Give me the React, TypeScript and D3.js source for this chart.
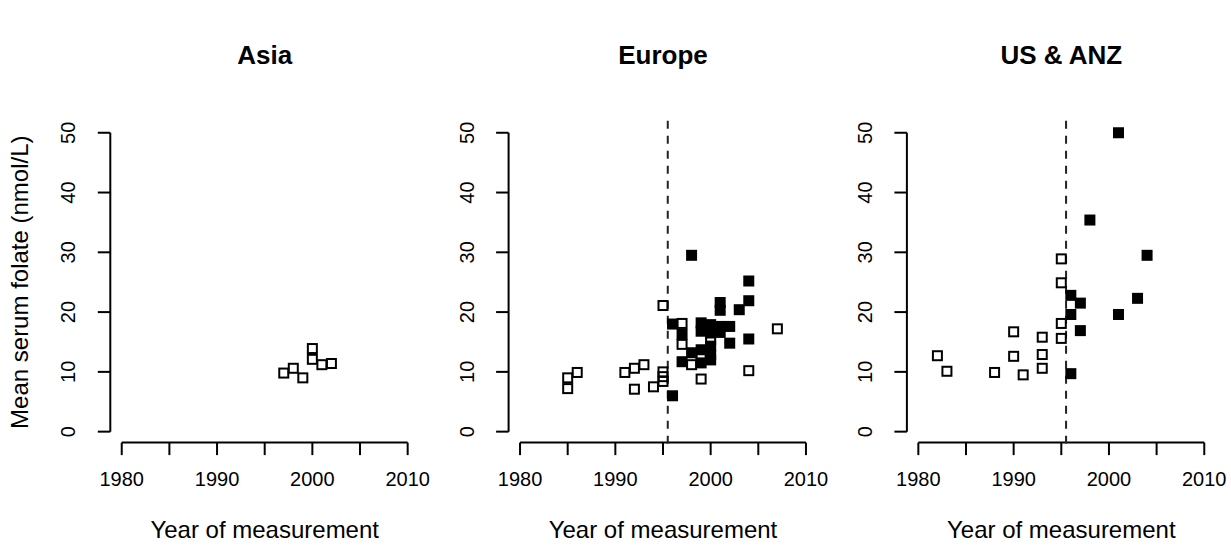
import * as d3 from 'd3';

const WIDTH = 1231;
const HEIGHT = 546;

const PANEL_LEFT = [110.3, 508.6, 906.9];
const PLOT_W = 308.8;
const PLOT_TOP = 120.8;
const PLOT_BOTTOM = 443.6;

const FONT = '"Liberation Sans", Arial, Helvetica, sans-serif';

const regions = ['Asia', 'Europe', 'US & ANZ'];
const xTicks = [1980, 1985, 1990, 1995, 2000, 2005, 2010];
const xTickLabels = ['1980', '1990', '2000', '2010'];
const yTicks = [0, 10, 20, 30, 40, 50];
const fortificationYear = 1995.5;

// open squares: before fortification, filled: after
const asiaOpenYears = [1997, 1998, 1999, 2000, 2000, 2001, 2002];
const asiaOpenValues = [9.8, 10.6, 9.0, 13.9, 12.1, 11.2, 11.4];
const asiaFilledYears: number[] = [];
const asiaFilledValues: number[] = [];

const europeOpenYears = [1985, 1985, 1986, 1991, 1992, 1992, 1993, 1994, 1995, 1995, 1995, 1995,
  1997, 1997, 1998, 1999, 1999, 2000, 2004, 2007];
const europeOpenValues = [9.0, 7.2, 9.9, 9.9, 10.6, 7.1, 11.2, 7.5, 8.4, 9.2, 10.0, 21.1,
  18.1, 14.6, 11.2, 12.7, 8.8, 15.4, 10.2, 17.2];
const europeFilledYears = [1996, 1996, 1997, 1997, 1998, 1998, 1999, 1999, 1999, 1999,
  2000, 2000, 2000, 2000, 2000, 2001, 2001, 2001, 2001, 2002, 2002, 2003, 2004, 2004, 2004];
const europeFilledValues = [18.0, 6.0, 16.3, 11.7, 29.5, 13.2, 18.2, 16.8, 13.7, 11.5,
  17.9, 16.5, 14.3, 12.9, 12.0, 21.6, 20.3, 17.6, 16.6, 17.6, 14.8, 20.4, 25.2, 21.9, 15.5];

const usOpenYears = [1982, 1983, 1988, 1990, 1990, 1991, 1993, 1993, 1993, 1995, 1995, 1995, 1995];
const usOpenValues = [12.7, 10.1, 9.9, 16.7, 12.6, 9.5, 15.8, 12.9, 10.6, 28.9, 24.9, 18.1, 15.6];
const usFilledYears = [1996, 1996, 1996, 1997, 1997, 1998, 2001, 2001, 2003, 2004];
const usFilledValues = [22.8, 19.6, 9.7, 21.5, 16.9, 35.4, 50.0, 19.6, 22.3, 29.5];

const panels = [
  { name: regions[0], openX: asiaOpenYears, openY: asiaOpenValues, fillX: asiaFilledYears, fillY: asiaFilledValues, dashed: false },
  { name: regions[1], openX: europeOpenYears, openY: europeOpenValues, fillX: europeFilledYears, fillY: europeFilledValues, dashed: true },
  { name: regions[2], openX: usOpenYears, openY: usOpenValues, fillX: usFilledYears, fillY: usFilledValues, dashed: true },
];

const y = d3.scaleLinear().domain([-2, 52]).range([PLOT_BOTTOM, PLOT_TOP]);

function Panel({ panel, left, first }) {
  const x = d3.scaleLinear().domain([1978.8, 2011.2]).range([left, left + PLOT_W]);
  const cx = left + PLOT_W / 2;
  const tick = 12.5;
  const sq = 9;
  const fs = 11;

  return (
    <g>
      <text x={cx} y={64} textAnchor="middle" fontSize={26} fontWeight="bold">{panel.name}</text>

      {/* x axis */}
      <line x1={x(1980)} x2={x(2010)} y1={PLOT_BOTTOM - 1} y2={PLOT_BOTTOM - 1} stroke="#000" strokeWidth={2} />
      {xTicks.map((t) => (
        <line key={t} x1={x(t)} x2={x(t)} y1={PLOT_BOTTOM - 1} y2={PLOT_BOTTOM - 1 + tick} stroke="#000" strokeWidth={2} />
      ))}
      {xTickLabels.map((t) => (
        <text key={t} x={x(+t)} y={486} textAnchor="middle" fontSize={20}>{t}</text>
      ))}
      <text x={cx} y={538} textAnchor="middle" fontSize={24}>Year of measurement</text>

      {/* y axis */}
      <line x1={left} x2={left} y1={y(0)} y2={y(50)} stroke="#000" strokeWidth={2} />
      {yTicks.map((t) => (
        <g key={t}>
          <line x1={left} x2={left - tick} y1={y(t)} y2={y(t)} stroke="#000" strokeWidth={2} />
          <text transform={`translate(${left - 35},${y(t)}) rotate(-90)`} textAnchor="middle" fontSize={20}>{t}</text>
        </g>
      ))}
      {first && (
        <text transform={`translate(28,${(y(0) + y(50)) / 2}) rotate(-90)`} textAnchor="middle" fontSize={24}>
          Mean serum folate (nmol/L)
        </text>
      )}

      {panel.dashed && (
        <line x1={x(fortificationYear)} x2={x(fortificationYear)} y1={PLOT_TOP} y2={PLOT_BOTTOM}
          stroke="#222" strokeWidth={2} strokeDasharray="8,7" />
      )}

      {panel.openX.map((yr, i) => (
        <rect key={`o${i}`} x={x(yr) - sq / 2} y={y(panel.openY[i]) - sq / 2} width={sq} height={sq}
          fill="none" stroke="#000" strokeWidth={2} />
      ))}
      {panel.fillX.map((yr, i) => (
        <rect key={`f${i}`} x={x(yr) - fs / 2} y={y(panel.fillY[i]) - fs / 2} width={fs} height={fs} fill="#000" />
      ))}
    </g>
  );
}

export default function App() {
  return (
    <svg width={WIDTH} height={HEIGHT} style={{ position: 'absolute', left: 0, top: 0, background: '#fff' }}
      fontFamily={FONT}>
      <rect width={WIDTH} height={HEIGHT} fill="#fff" />
      {panels.map((p, i) => (
        <Panel key={p.name} panel={p} left={PANEL_LEFT[i]} first={i === 0} />
      ))}
    </svg>
  );
}
